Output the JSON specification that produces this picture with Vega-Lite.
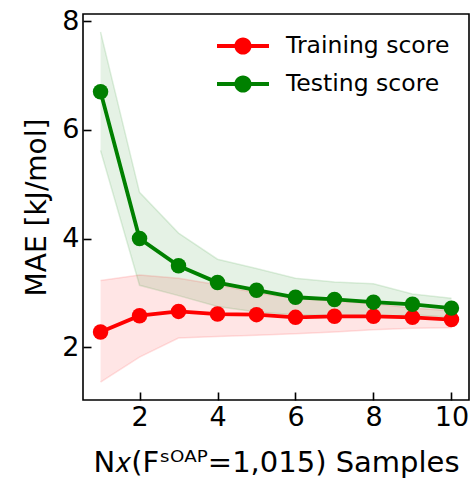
{
  "$schema": "https://vega.github.io/schema/vega-lite/v6.json",
  "autosize": "none",
  "width": 386,
  "height": 386,
  "padding": {"left": 83, "top": 14, "right": 3, "bottom": 82},
  "background": "white",
  "config": {
    "font": "DejaVu Sans",
    "view": {"stroke": "black", "strokeWidth": 1.6},
    "axis": {
      "grid": false,
      "domain": false,
      "tickColor": "black",
      "tickWidth": 1.6,
      "tickSize": -8,
      "labelFont": "DejaVu Sans",
      "labelFontSize": 27,
      "labelColor": "black",
      "titleFont": "DejaVu Sans",
      "titleFontSize": 28,
      "titleFontWeight": "normal",
      "titleColor": "black"
    }
  },
  "data": {
    "values": [
      {"n": 1, "series": "Training score", "mae": 2.28, "lo": 1.36, "hi": 3.23},
      {"n": 2, "series": "Training score", "mae": 2.58, "lo": 1.82, "hi": 3.33},
      {"n": 3, "series": "Training score", "mae": 2.66, "lo": 2.17, "hi": 3.27},
      {"n": 4, "series": "Training score", "mae": 2.61, "lo": 2.2, "hi": 3.15},
      {"n": 5, "series": "Training score", "mae": 2.6, "lo": 2.22, "hi": 3.0},
      {"n": 6, "series": "Training score", "mae": 2.55, "lo": 2.25, "hi": 2.9},
      {"n": 7, "series": "Training score", "mae": 2.57, "lo": 2.28, "hi": 2.85},
      {"n": 8, "series": "Training score", "mae": 2.57, "lo": 2.32, "hi": 2.8},
      {"n": 9, "series": "Training score", "mae": 2.55, "lo": 2.35, "hi": 2.72},
      {"n": 10, "series": "Training score", "mae": 2.51, "lo": 2.36, "hi": 2.67},
      {"n": 1, "series": "Testing score", "mae": 6.7, "lo": 5.62, "hi": 7.8},
      {"n": 2, "series": "Testing score", "mae": 4.0, "lo": 3.14, "hi": 4.85},
      {"n": 3, "series": "Testing score", "mae": 3.5, "lo": 2.95, "hi": 4.1},
      {"n": 4, "series": "Testing score", "mae": 3.19, "lo": 2.75, "hi": 3.62},
      {"n": 5, "series": "Testing score", "mae": 3.05, "lo": 2.65, "hi": 3.45},
      {"n": 6, "series": "Testing score", "mae": 2.92, "lo": 2.6, "hi": 3.27},
      {"n": 7, "series": "Testing score", "mae": 2.88, "lo": 2.58, "hi": 3.2},
      {"n": 8, "series": "Testing score", "mae": 2.83, "lo": 2.55, "hi": 3.17},
      {"n": 9, "series": "Testing score", "mae": 2.79, "lo": 2.6, "hi": 2.98},
      {"n": 10, "series": "Testing score", "mae": 2.72, "lo": 2.55, "hi": 2.9}
    ]
  },
  "encoding": {
    "x": {
      "field": "n", "type": "quantitative",
      "scale": {"domain": [0.55, 10.45], "nice": false, "zero": false},
      "axis": {"values": [2, 4, 6, 8, 10], "title": "N𝑥(Fˢᴼᴬᴾ=1,015) Samples", "titleFontSize": 29, "labelPadding": 12, "titlePadding": 18}
    },
    "color": {
      "field": "series", "type": "nominal",
      "scale": {"domain": ["Training score", "Testing score"], "range": ["#ff0000", "#008000"]},
      "legend": {
        "title": null,
        "orient": "none",
        "legendX": 134,
        "legendY": 6,
        "symbolType": "M-1,-0.075H1V0.075H-1Z M-0.33,0A0.33,0.33 0 1,1 0.33,0A0.33,0.33 0 1,1 -0.33,0Z",
        "symbolSize": 2704,
        "symbolStrokeWidth": 0,
        "symbolOpacity": 1,
        "labelFontSize": 23.5,
        "labelFont": "DejaVu Sans",
        "labelColor": "black",
        "labelLimit": 400,
        "labelOffset": 17,
        "rowPadding": -9,
        "encode": {"symbols": {"update": {"fill": {"scale": "color", "field": "value"}, "strokeWidth": {"value": 0}, "opacity": {"value": 1}, "fillOpacity": {"value": 1}}}}
      }
    }
  },
  "layer": [
    {
      "mark": {"type": "area", "fillOpacity": 0.1},
      "encoding": {
        "y": {"field": "lo", "type": "quantitative",
          "scale": {"domain": [1.03, 8.13], "nice": false, "zero": false},
          "axis": {"values": [2, 4, 6, 8], "title": "MAE [kJ/mol]", "labelPadding": 12, "titlePadding": 10}},
        "y2": {"field": "hi"}
      }
    },
    {
      "mark": {"type": "line", "strokeWidth": 1.5, "opacity": 0.12},
      "encoding": {"y": {"field": "lo", "type": "quantitative"}}
    },
    {
      "mark": {"type": "line", "strokeWidth": 1.5, "opacity": 0.12},
      "encoding": {"y": {"field": "hi", "type": "quantitative"}}
    },
    {
      "mark": {"type": "line", "strokeWidth": 3.8},
      "encoding": {"y": {"field": "mae", "type": "quantitative"}}
    },
    {
      "mark": {"type": "point", "filled": true, "opacity": 1, "size": 240},
      "encoding": {"y": {"field": "mae", "type": "quantitative"}}
    }
  ]
}
